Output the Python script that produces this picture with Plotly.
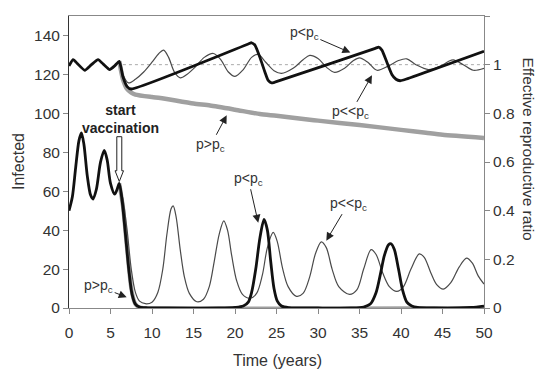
import plotly.graph_objects as go

# ---------------- data ----------------
# Infected, p<pc (thick black), includes pre-vaccination period
t_inf_low = [0, 0.4, 0.8, 1.2, 1.5, 1.8, 2.2, 2.6, 2.9, 3.3, 3.8, 4.25, 4.6, 5.0, 5.5, 5.8, 6.06,
             6.4, 6.8, 7.2, 7.6, 8.0, 8.5, 9.5, 12, 18, 20, 21, 21.6, 22, 22.5, 23, 23.5, 23.9,
             24.3, 24.7, 25.1, 25.6, 26.5, 30, 34, 35.5, 36.3, 37, 37.5, 38, 38.5, 38.8, 39.2,
             39.7, 40.2, 40.7, 41.3, 42, 44, 47, 48.5, 50]
inf_low = [50, 57, 72, 86, 90, 84, 68, 58, 56, 61, 75, 81, 76, 64, 58.5, 61, 64,
           55, 38, 20, 7, 2, 0.5, 0.1, 0, 0, 0.3, 1, 3, 8, 20, 36, 45.5, 40,
           24, 10, 3.5, 1, 0.2, 0, 0, 0.5, 2, 8, 17, 27, 32.5, 33, 30,
           20, 9, 3, 1, 0.3, 0, 0, 0.3, 1]

# Infected, p<<pc (thin)
t_inf_vlow = [6.06, 6.5, 7.0, 7.5, 8.0, 8.5, 9.2, 10, 10.7, 11.3, 11.8, 12.3, 12.55, 12.9, 13.4,
              13.9, 14.5, 15.4, 16.2, 16.9, 17.5, 18.1, 18.65, 19.1, 19.6, 20.2, 20.9, 21.8,
              22.6, 23.3, 23.9, 24.6, 25.1, 25.7, 26.4, 27.4, 28.2, 29.0, 29.7, 30.4, 31.0,
              31.7, 32.5, 33.8, 34.7, 35.5, 36.4, 37.0, 37.8, 38.6, 39.5, 40.3, 41.2, 42.2,
              42.8, 43.6, 44.3, 45.1, 46.0, 47.0, 47.9, 48.6, 49.3, 50]
inf_vlow = [64, 56, 40, 20, 8, 3.5, 2.2, 3, 8, 20, 38, 51, 52.5, 47, 30,
            16, 7.5, 3.2, 4.5, 11, 24, 38, 44.8, 40, 27, 14, 7, 5,
            7.5, 17, 31, 38.8, 34, 21, 11, 6, 7.5, 16, 28, 34, 31,
            20, 11, 7, 9.5, 20, 30, 27.5, 18, 11, 8.5, 11, 20, 27.8,
            26, 18, 12, 9.7, 13, 21, 25.6, 23, 16.5, 12.3]

# Infected, p>pc (gray)
t_inf_high = [6.06, 6.5, 7.0, 7.5, 8.0, 8.5, 9.0, 50]
inf_high = [64, 52, 30, 10, 2, 0.3, 0, 0]

# Effective reproductive ratio, p<pc (thick black), includes pre-vaccination
t_r_low = [0, 0.5, 1.0, 1.9, 2.7, 3.5, 4.2, 4.9, 5.5, 6.06, 6.5, 7.0, 7.5,
           21.6, 22.0, 22.4, 23.0, 23.6, 24.0, 24.4, 24.8,
           36.9, 37.3, 37.7, 38.3, 38.9, 39.4, 39.9, 40.3, 50]
r_low = [0.995, 1.021, 1.005, 0.977, 1.0, 1.021, 1.0, 0.98, 0.995, 1.014, 0.95, 0.91, 0.90,
         1.085, 1.09, 1.08, 1.03, 0.97, 0.935, 0.925, 0.928,
         1.067, 1.072, 1.06, 1.01, 0.96, 0.94, 0.934, 0.937, 1.055]

# Effective reproductive ratio, p<<pc (thin)
t_r_vlow = [6.06, 6.5, 7.15, 8, 9, 10, 10.8, 11.4, 12, 12.7, 13.4, 14.2, 15.2, 16.3, 17.4,
            18.3, 19.2, 20.0, 21, 22, 22.8, 23.7, 24.7, 25.6, 27, 28.2, 29.0, 30, 31,
            32.0, 33.2, 34.2, 35.0, 36.0, 37.1, 38.5, 39.7, 40.7, 41.8, 43.3, 44.8,
            45.7, 46.3, 47.5, 48.7, 50]
r_vlow = [1.014, 0.96, 0.925, 0.94, 0.97, 1.01, 1.045, 1.06, 1.03, 0.97, 0.946, 0.96, 0.99, 1.03, 1.046,
          1.02, 0.97, 0.952, 0.98, 1.03, 1.042, 1.01, 0.975, 0.964, 0.985, 1.02, 1.038, 1.025, 0.99,
          0.968, 0.985, 1.015, 1.028, 1.01, 0.977, 0.995, 1.017, 1.024, 1.0, 0.98, 0.995,
          1.013, 1.02, 1.0, 0.977, 0.985]

# Effective reproductive ratio, p>pc (gray)
t_r_high = [6.06, 6.5, 7.0, 7.5, 8, 10, 11, 15, 17, 20, 23, 25, 29, 30, 35, 40, 43, 45, 50]
r_high = [1.014, 0.94, 0.90, 0.885, 0.877, 0.867, 0.863, 0.84, 0.832, 0.815, 0.797, 0.79, 0.774,
          0.77, 0.752, 0.732, 0.72, 0.712, 0.699]

x_ticks = [0, 5, 10, 15, 20, 25, 30, 35, 40, 45, 50]
y_ticks = [0, 20, 40, 60, 80, 100, 120, 140]
r_ticks = [0, 0.2, 0.4, 0.6, 0.8, 1.0, 1.2]
r_tick_text = ["0", "0.2", "0.4", "0.6", "0.8", "1", "1.2"]
r_threshold = 1.0
vacc_start = 6.06

FONT = "Liberation Sans, Arial, sans-serif"
TXT = "#333333"
THICK = "#111111"
THIN = "#4a4a4a"
GRAY = "#a0a0a0"

# the page body has an 8px margin: the figure starts at (8, 8) in the window
OFF = 8
W, H = 543 - OFF, 372 - OFF
ML, MR, MT, MB = 69 - OFF, 59, 16 - OFF, 64
PW, PH = W - ML - MR, H - MT - MB

fig = go.Figure()

# threshold line R=1
fig.add_trace(go.Scatter(x=[6.5, x_ticks[-1]], y=[r_threshold, r_threshold], yaxis="y2",
                         mode="lines", line=dict(color="#aaaaaa", width=1, dash="dot"),
                         hoverinfo="skip", showlegend=False))

# gray p>pc
fig.add_trace(go.Scatter(x=t_r_high, y=r_high, yaxis="y2", mode="lines",
                         line=dict(color=GRAY, width=4.5, shape="spline", smoothing=0.6), showlegend=False))
fig.add_trace(go.Scatter(x=t_inf_high, y=inf_high, mode="lines",
                         line=dict(color=GRAY, width=4, shape="spline", smoothing=0.6), showlegend=False))

# thin p<<pc
fig.add_trace(go.Scatter(x=t_r_vlow, y=r_vlow, yaxis="y2", mode="lines",
                         line=dict(color=THIN, width=1.2, shape="spline", smoothing=0.9), showlegend=False))
fig.add_trace(go.Scatter(x=t_inf_vlow, y=inf_vlow, mode="lines",
                         line=dict(color=THIN, width=1.2, shape="spline", smoothing=0.9), showlegend=False))

# thick p<pc
fig.add_trace(go.Scatter(x=t_r_low, y=r_low, yaxis="y2", mode="lines",
                         line=dict(color=THICK, width=2.8, shape="spline", smoothing=0.5), showlegend=False))
fig.add_trace(go.Scatter(x=t_inf_low, y=inf_low, mode="lines",
                         line=dict(color=THICK, width=2.8, shape="spline", smoothing=0.8), showlegend=False))

# hollow "start vaccination" arrow
fig.add_shape(type="path",
              path="M 5.76,88 L 5.76,70.5 L 5.55,70.5 L %.2f,65 L 6.57,70.5 L 6.36,70.5 L 6.36,88 Z" % vacc_start,
              xref="x", yref="y", fillcolor="white", line=dict(color="#222", width=1))

fig.add_annotation(x=6.2, y=97, xref="x", yref="y", text="<b>start<br>vaccination</b>",
                   showarrow=False, font=dict(family=FONT, size=14, color="#222"))

def lab(txt, tipx, tipy, ax, ay):
    fig.add_annotation(x=tipx, y=tipy, xref="x", yref="y", text=txt, showarrow=True,
                       ax=ax, ay=ay, arrowhead=2, arrowsize=1.6, arrowwidth=1, arrowcolor="#222",
                       standoff=0, font=dict(family=FONT, size=14, color=TXT))

LT = "p&lt;p<sub>c</sub>"
LLT = "p&lt;&lt;p<sub>c</sub>"
GT = "p&gt;p<sub>c</sub>"
lab(LT, 33.9, 131.2, -46, -20)
lab(LLT, 36.5, 119.5, -21, 37)
lab(GT, 19.0, 99.0, -16, 30)
lab(LT, 22.8, 43.8, -10, -44)
lab(LLT, 31.0, 34.6, 22, -37)
lab(GT, 6.95, 5.5, -28, -11)

# axis titles placed at window pixel positions (converted to paper coordinates)
def px2paper(px, py):
    return (px - OFF - ML) / PW, (H - MB - (py - OFF)) / PH

rx, ry = px2paper(518, 149)
fig.add_annotation(x=rx, y=ry, xref="paper", yref="paper", text="Effective reproductive ratio",
                   showarrow=False, textangle=90, xanchor="left", yanchor="middle",
                   font=dict(family=FONT, size=15.5, color=TXT))
lx, ly = px2paper(18, 162)
fig.add_annotation(x=lx, y=ly, xref="paper", yref="paper", text="Infected",
                   showarrow=False, textangle=-90, xanchor="center", yanchor="middle",
                   font=dict(family=FONT, size=16, color=TXT))
bx, by = px2paper(277, 360)
fig.add_annotation(x=bx, y=by, xref="paper", yref="paper", text="Time (years)",
                   showarrow=False, xanchor="center", yanchor="middle",
                   font=dict(family=FONT, size=16, color=TXT))

fig.update_layout(
    width=W, height=H,
    margin=dict(l=ML, r=MR, t=MT, b=MB, autoexpand=False),
    paper_bgcolor="white", plot_bgcolor="white",
    font=dict(family=FONT, size=15.5, color=TXT),
    showlegend=False,
    xaxis=dict(range=[0, 50], tickvals=x_ticks, ticks="outside", ticklen=5, tickcolor="#888",
               showline=True, linecolor="#888", linewidth=1, mirror=True, showgrid=False, zeroline=False,
               automargin=False, ticklabelstandoff=5),
    yaxis=dict(range=[0, 150], tickvals=y_ticks, ticks="outside", ticklen=5, tickcolor="#888",
               showline=True, linecolor="#333", linewidth=1, showgrid=False, zeroline=False,
               automargin=False),
    yaxis2=dict(range=[0, 1.2], tickvals=r_ticks, ticktext=r_tick_text, overlaying="y", side="right",
                ticks="outside", ticklen=5, tickcolor="#888", showline=True, linecolor="#888",
                linewidth=1, showgrid=False, zeroline=False, automargin=False),
)

fig.write_html("out.html")
